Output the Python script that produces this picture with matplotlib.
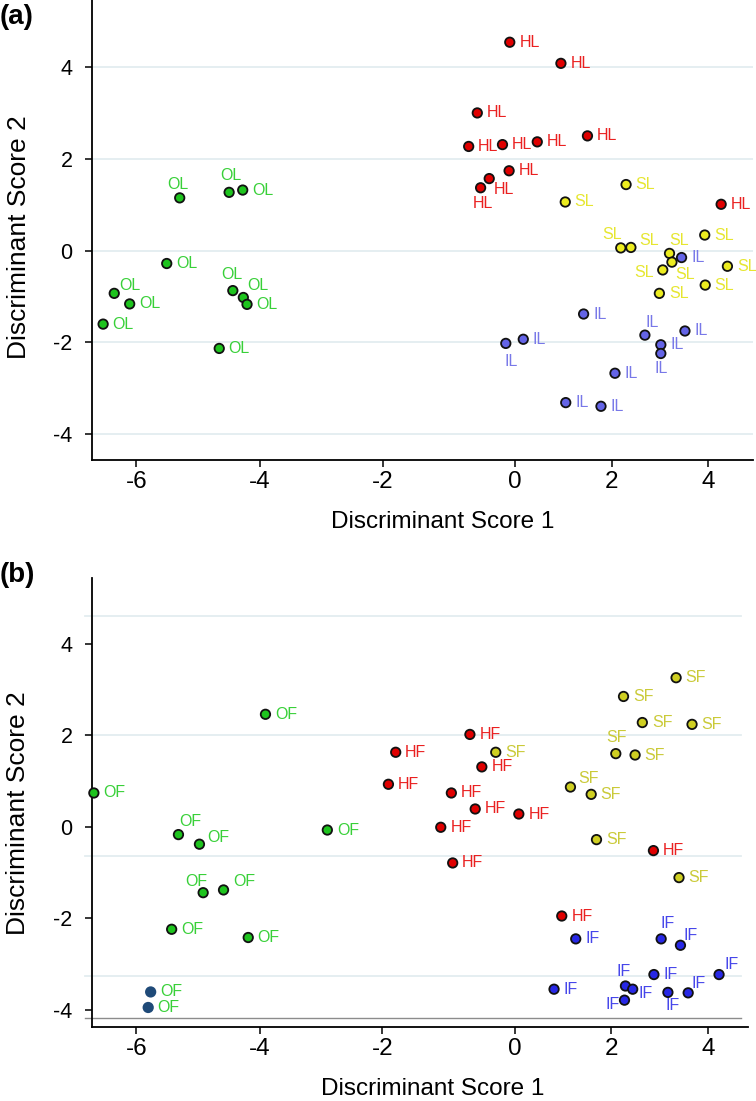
import numpy as np
import matplotlib as mp
mp.use('Agg')
import matplotlib.pyplot as pp
from matplotlib import font_manager as fm

mp.rcParams.update({
    'font.family': 'Liberation Sans',
    'axes.spines.top': False,
    'axes.spines.right': False,
    'axes.linewidth': 1.3,
    'axes.unicode_minus': False,
    'xtick.direction': 'out',
    'ytick.direction': 'out',
})

# narrow face for the (squeezed) x axis texts, if there is one
names = {f.name for f in fm.fontManager.ttflist}
narrow = next((n for n in ['Liberation Sans Narrow', 'DejaVu Sans Condensed'] if n in names), None)
xfont = {'family': narrow, 'size': 20} if narrow else {'family': 'Liberation Sans', 'size': 17.5}

# ---------------- panel (a): leaves ----------------
ol_x = [-5.30, -4.50, -4.28, -5.51, -6.36, -6.11, -6.54, -4.44, -4.27, -4.21, -4.66]
ol_y = [1.15, 1.27, 1.32, -0.28, -0.93, -1.16, -1.60, -0.87, -1.02, -1.17, -2.13]
hl_x = [-0.08, 0.95, -0.57, -0.70, -0.19, 0.46, 1.50, -0.09, -0.39, -0.52, 4.27]
hl_y = [4.54, 4.08, 3.00, 2.27, 2.31, 2.37, 2.50, 1.74, 1.57, 1.37, 1.01]
sl_x = [2.30, 1.04, 2.19, 2.40, 3.20, 3.25, 3.93, 4.40, 3.06, 3.94, 2.99]
sl_y = [1.44, 1.06, 0.06, 0.07, -0.06, -0.25, 0.34, -0.34, -0.42, -0.75, -0.93]
il_x = [3.45, 1.42, 0.17, -0.14, 2.69, 3.52, 3.02, 3.02, 2.07, 1.05, 1.78]
il_y = [-0.15, -1.38, -1.93, -2.02, -1.84, -1.75, -2.05, -2.24, -2.67, -3.31, -3.39]

# ---------------- panel (b): fruits ----------------
of_x = [-3.91, -6.69, -5.32, -2.90, -4.98, -4.92, -4.59, -5.43, -4.19, -5.77, -5.81]
of_y = [2.46, 0.74, -0.17, -0.07, -0.38, -1.44, -1.38, -2.24, -2.42, -3.61, -3.95]
hf_x = [-0.68, -1.80, -0.50, -1.91, -0.96, -0.60, 0.08, -1.12, -0.94, 2.87, 0.97]
hf_y = [2.02, 1.63, 1.31, 0.93, 0.74, 0.39, 0.28, -0.01, -0.79, -0.52, -1.95]
sf_x = [3.34, 2.25, 2.64, 3.67, 2.09, 2.49, -0.29, 1.15, 1.58, 1.69, 3.40]
sf_y = [3.26, 2.85, 2.28, 2.24, 1.60, 1.57, 1.63, 0.87, 0.71, -0.28, -1.11]
if_x = [1.26, 3.03, 3.43, 4.23, 2.88, 2.29, 2.44, 3.17, 3.59, 2.27, 0.81]
if_y = [-2.45, -2.45, -2.59, -3.23, -3.23, -3.48, -3.55, -3.62, -3.63, -3.79, -3.55]

yticks = [-4, -2, 0, 2, 4]
xticks = [-6, -4, -2, 0, 2, 4]
grid_b = [4.62, 2.0, -0.64, -3.26]   # stray light lines in panel (b)
base_b = -4.18                        # grey base line in panel (b)

# the original x axis is not evenly spaced: relative widths between ticks
seg_w = [123.5, 122.5, 132.5, 96.5, 96.5]
knot_v = np.array([-12.0] + xticks + [10.0])
inner = np.concatenate([[0], np.cumsum(seg_w)])
knot_p = np.concatenate([[-3 * seg_w[0]], inner, [inner[-1] + 3 * seg_w[-1]]])
fwd = lambda v: np.interp(v, knot_v, knot_p)
inv = lambda p: np.interp(p, knot_p, knot_v)

# label nudges (px, left edge / centre of text relative to point centre)
dflt = (9.5, 0)
nudge = {
    'OL': {0: (-12, 13.7), 1: (-9, 17), 4: (5, 8), 7: (-12, 16), 8: (4, 11.6)},
    'HL': {8: (5, -11), 9: (-8, -15.6)},
    'SL': {2: (-18, 13.4), 3: (8, 6.6), 4: (-0.6, 13.3), 5: (3, -12), 8: (-28.7, -2.7)},
    'IL': {3: (-1.7, -17.7), 4: (1, 12.3), 7: (-6.7, -15)},
    'OF': {2: (1.3, 12.6), 4: (8, 7), 5: (-17.6, 11), 6: (9.6, 8)},
    'HF': {},
    'SF': {4: (-10, 16.6), 7: (8, 9)},
    'IF': {1: (-1, 15), 2: (3.3, 9.3), 3: (5, 10), 5: (-9.3, 14), 6: (5.6, -4.3),
           7: (-2, -12.7), 8: (3.4, 9), 9: (-19.4, -4)},
}


def draw_group(ax, xs, ys, name, fill, txt, dark=(), dark_fill='#1f4a78'):
    fc = [dark_fill if i in dark else fill for i in range(len(xs))]
    ec = [dark_fill if i in dark else '#111111' for i in range(len(xs))]
    ax.scatter(xs, ys, s=46, c=fc, edgecolors=ec, linewidths=1.3, zorder=3, clip_on=False)
    for i, (x, y) in enumerate(zip(xs, ys)):
        dx, dy = nudge[name].get(i, dflt)
        ax.annotate(name, (x, y), xytext=(dx * 0.72, dy * 0.72), textcoords='offset points',
                    ha='left', va='center', color=txt, fontsize=11.5, annotation_clip=False)


def style(ax, ylim, xlim):
    ax.set_xscale('function', functions=(fwd, inv))
    ax.set_xlim(xlim)
    ax.set_ylim(ylim)
    ax.set_xticks(xticks)
    ax.set_xticklabels([str(t) for t in xticks], fontdict=xfont)
    ax.set_yticks(yticks)
    ax.tick_params(axis='y', length=5, width=1.1, pad=9, labelsize=15.5)
    ax.tick_params(axis='x', length=5, width=1.1, pad=3)
    ax.set_ylabel('Discriminant Score 2', fontsize=19)
    ax.set_xlabel('Discriminant Score 1', fontdict=xfont)


fig = pp.figure(figsize=(7.56, 11.01), dpi=100)
ax1 = fig.add_axes([92 / 756, 1 - 460 / 1101, 661 / 756, 460 / 1101])
ax2 = fig.add_axes([92 / 756, 1 - 1026.7 / 1101, 656 / 756, 448.7 / 1101])

# (a)
style(ax1, (-4.56, 5.46), (-6.72, 4.93))
for t in yticks:
    ax1.axhline(t, color='#e3edf0', lw=1.3, zorder=0)
draw_group(ax1, ol_x, ol_y, 'OL', '#1ec41e', '#38d038')
draw_group(ax1, hl_x, hl_y, 'HL', '#e00000', '#ea2020')
draw_group(ax1, sl_x, sl_y, 'SL', '#ecec20', '#e6e630')
draw_group(ax1, il_x, il_y, 'IL', '#6464e6', '#7878e8')
ax1.xaxis.set_label_coords(0.53, -0.111)
ax1.yaxis.set_label_coords(-0.093, 0.484)

# (b)
style(ax2, (-4.37, 5.44), (-6.72, 4.83))
for g in grid_b:
    ax2.axhline(g, xmin=-0.01, xmax=0.99, color='#e3edf0', lw=1.3, zorder=0, clip_on=False)
ax2.axhline(base_b, xmin=-0.01, xmax=0.99, color='#8c8c8c', lw=1.0, zorder=1, clip_on=False)
draw_group(ax2, of_x, of_y, 'OF', '#1ec41e', '#38d038', dark=(9, 10))
draw_group(ax2, hf_x, hf_y, 'HF', '#e00000', '#ea2020')
draw_group(ax2, sf_x, sf_y, 'SF', '#cfcf22', '#caca38')
draw_group(ax2, if_x, if_y, 'IF', '#2828e6', '#4646ea')
ax2.xaxis.set_label_coords(0.52, -0.114)
ax2.yaxis.set_label_coords(-0.094, 0.475)

fig.text(0.0, 1 - 17.5 / 1101, '(a)', fontsize=20, fontweight='bold', ha='left', va='center')
fig.text(0.0, 1 - 575.5 / 1101, '(b)', fontsize=20, fontweight='bold', ha='left', va='center')

fig.savefig('out.png', dpi=100)
